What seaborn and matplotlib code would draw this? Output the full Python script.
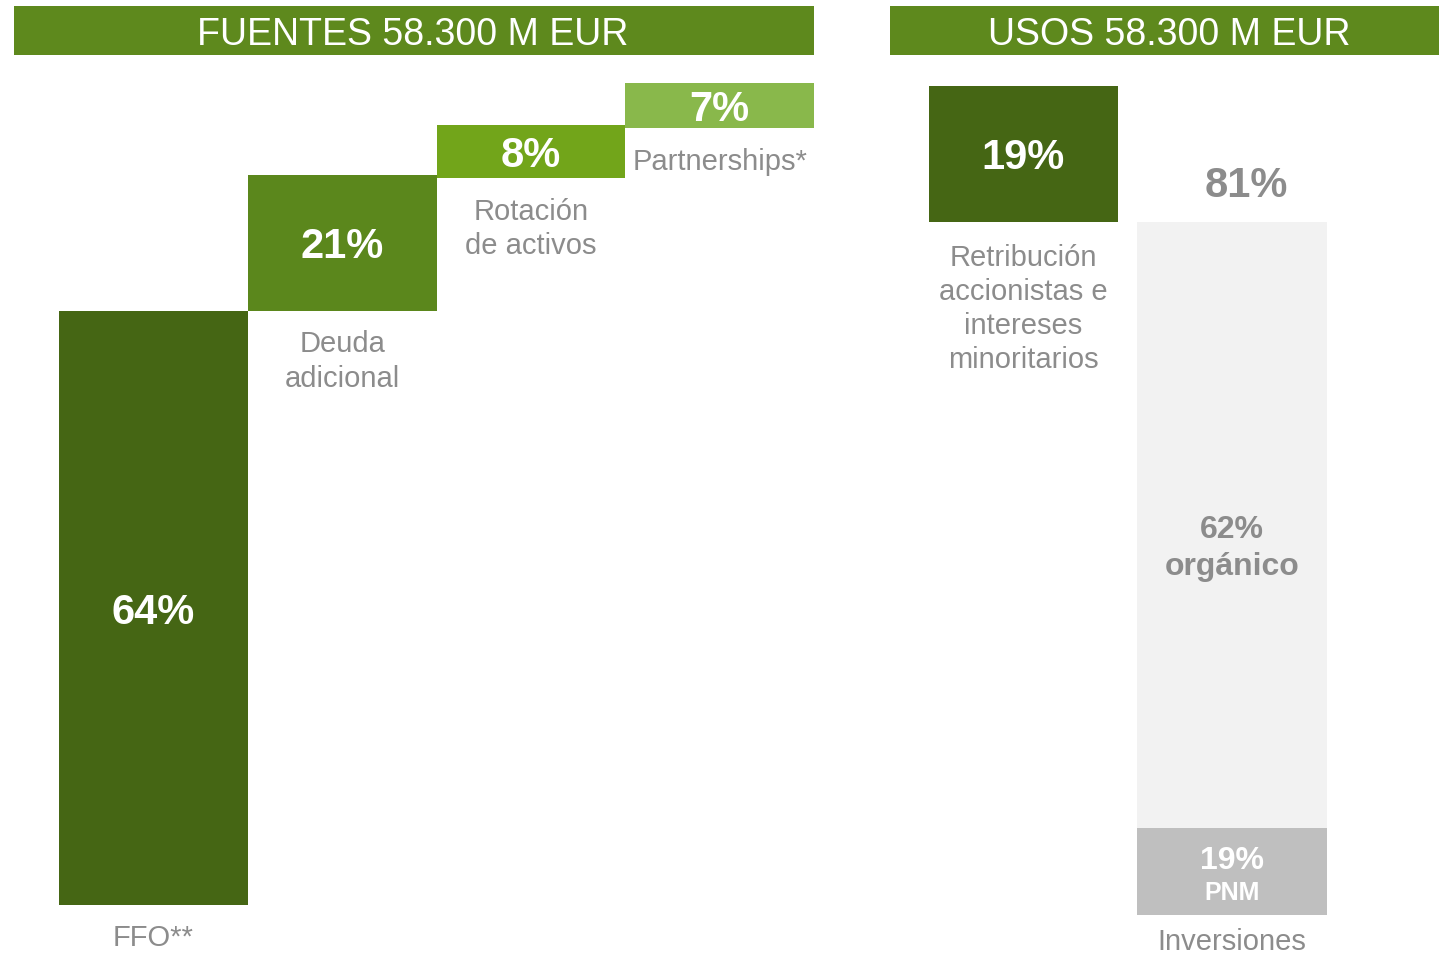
import matplotlib
matplotlib.use("Agg")
import matplotlib.pyplot as plt
from matplotlib.patches import Rectangle
import seaborn as sns
import pandas as pd

# ---------------- data (heights as drawn in the picture, labels as printed) -------------
src_cats = ["FFO**", "Deuda\nadicional", "Rotación\nde activos", "Partnerships*"]
src_pct = ["64%", "21%", "8%", "7%"]
src_bottom = [0.0, 64.0, 78.3, 83.7]
src_top = [64.0, 78.7, 84.0, 88.6]

use_cats = ["Retribución\naccionistas e\nintereses\nminoritarios", "Inversiones"]
use_pct = ["19%", "81%"]
use_bottom = [74.7, 0.0]
use_top = [89.3, 74.7]

inv_parts = ["PNM", "orgánico"]
inv_pct = ["19%", "62%"]
inv_heights = [9.4, 65.3]

titles = ["FUENTES 58.300 M EUR", "USOS 58.300 M EUR"]

# ---------------- style -------------
src_colors = ["#456614", "#5b871c", "#72a51a", "#89b84b"]
use_colors = ["#456614", "#f2f2f2"]
pnm_color = "#bfbfbf"
header_color = "#5e891d"
label_gray = "#8c8c8c"

sns.set_theme(style="white")
plt.rcParams['font.family'] = ['Liberation Sans', 'DejaVu Sans']

W, H = 1439, 955
S = 9.281  # pixels per drawn unit
fig = plt.figure(figsize=(W / 100, H / 100), dpi=100)
fig.patch.set_facecolor("white")

# ---------------- left panel: FUENTES -------------
ax1 = fig.add_axes([59 / W, 0, 755 / W, 1])
df_src = pd.DataFrame({"cat": src_cats, "top": src_top, "bottom": src_bottom})
sns.barplot(data=df_src, x="cat", y="top", hue="cat", palette=src_colors, width=1,
            saturation=1, legend=False, linewidth=0, ax=ax1)
sns.barplot(data=df_src, x="cat", y="bottom", color="white", width=1,
            saturation=1, linewidth=0, ax=ax1)
ax1.set_xlim(-0.5, 3.5)
ax1.set_ylim(-(H - 905) / S, 905 / S)
ax1.axis("off")

for i, (cat, pct, b, t) in enumerate(zip(src_cats, src_pct, src_bottom, src_top)):
    ax1.text(i, (b + t) / 2, pct, ha="center", va="center_baseline", color="white",
             fontsize=30, fontweight="bold")
    ax1.annotate(cat, xy=(i, b), xytext=(0, -14), textcoords="offset points",
                 ha="center", va="top", color=label_gray, fontsize=21,
                 linespacing=1.28, annotation_clip=False)

# ---------------- right panel: USOS -------------
ax2 = fig.add_axes([919.25 / W, 0, 417 / W, 1])
df_use = pd.DataFrame({"cat": use_cats, "top": use_top, "bottom": use_bottom})
bw = 0.9065
sns.barplot(data=df_use, x="cat", y="top", hue="cat", palette=use_colors, width=bw,
            saturation=1, legend=False, linewidth=0, ax=ax2)
sns.barplot(data=df_use, x="cat", y="bottom", color="white", width=bw,
            saturation=1, linewidth=0, ax=ax2)
sns.barplot(x=[use_cats[1]], y=[inv_heights[0]], order=use_cats, color=pnm_color,
            width=bw, saturation=1, linewidth=0, ax=ax2)
ax2.set_xlim(-0.5, 1.5)
ax2.set_ylim(-(H - 915) / S, 915 / S)
ax2.axis("off")

# Retribución
ax2.text(0, (use_bottom[0] + use_top[0]) / 2, use_pct[0], ha="center",
         va="center_baseline", color="white", fontsize=30, fontweight="bold")
ax2.annotate(use_cats[0], xy=(0, use_bottom[0]), xytext=(0, -16), textcoords="offset points",
             ha="center", va="top", color=label_gray, fontsize=21, linespacing=1.28)
# Inversiones
ax2.annotate(use_pct[1], xy=(1, use_top[1]), xytext=(10, 29), textcoords="offset points",
             ha="center", va="center_baseline", color=label_gray, fontsize=30, fontweight="bold")
ax2.annotate(use_cats[1], xy=(1, 0), xytext=(0, -9), textcoords="offset points",
             ha="center", va="top", color=label_gray, fontsize=21, annotation_clip=False)
# PNM part
pnm_mid = inv_heights[0] / 2
ax2.annotate(inv_pct[0], xy=(1, pnm_mid), xytext=(0, 10), textcoords="offset points",
             ha="center", va="center_baseline", color="white", fontsize=23, fontweight="bold")
ax2.annotate(inv_parts[0], xy=(1, pnm_mid), xytext=(0, -14), textcoords="offset points",
             ha="center", va="center_baseline", color="white", fontsize=18, fontweight="bold")
# orgánico part
org_mid = inv_heights[0] + inv_heights[1] / 2
ax2.annotate(inv_pct[1], xy=(1, org_mid), xytext=(0, -1), textcoords="offset points",
             ha="center", va="center_baseline", color=label_gray, fontsize=23, fontweight="bold")
ax2.annotate(inv_parts[1], xy=(1, org_mid), xytext=(0, -28), textcoords="offset points",
             ha="center", va="center_baseline", color=label_gray, fontsize=23, fontweight="bold")

# ---------------- headers -------------
for (x0, x1, tx), title in zip([(14, 814, 413), (890, 1439, 1169)], titles):
    fig.add_artist(Rectangle((x0 / W, 1 - 55 / H), (x1 - x0) / W, 49 / H,
                             transform=fig.transFigure, facecolor=header_color,
                             edgecolor="none"))
    fig.text(tx / W, 1 - 31 / H, title, ha="center", va="center_baseline",
             color="white", fontsize=27)

fig.savefig("out.png", dpi=100, facecolor="white")
